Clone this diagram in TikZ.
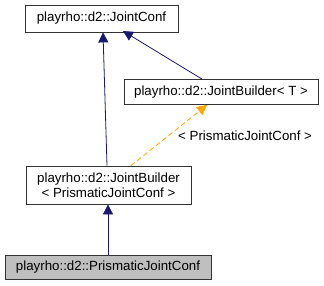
\documentclass[tikz,border=0pt]{standalone}
\usepackage{fontspec}
\setmainfont{Liberation Sans}
\usetikzlibrary{arrows.meta}
\definecolor{edgeblue}{RGB}{25,25,112}
\definecolor{edgeorange}{RGB}{255,165,0}
\definecolor{boxgray}{RGB}{191,191,191}
\tikzset{
  classbox/.style={draw=black!80, fill=white, line width=0.8pt, inner sep=0pt, align=center, font=\fontsize{13.3}{15}\selectfont},
  inherit/.style={draw=edgeblue, line width=0.8pt, -{Triangle[width=10pt,length=10pt]}},
  templ/.style={draw=edgeorange, line width=0.8pt, dashed, dash pattern=on 5pt off 3pt, -{Triangle[width=10pt,length=10pt]}},
  lbl/.style={font=\fontsize{13.3}{15}\selectfont, inner sep=0pt}
}
\begin{document}
\begin{tikzpicture}[x=1pt,y=-1pt]
\useasboundingbox (0,0) rectangle (324,285);
% class boxes
\node[classbox, minimum width=153pt, minimum height=27pt] (jc) at (101.5,18.5) {playrho::d2::JointConf};
\node[classbox, minimum width=194pt, minimum height=25pt] (jbt) at (221,92) {playrho::d2::JointBuilder\textless{} T \textgreater};
\node[classbox, minimum width=165pt, minimum height=38pt] (jbp) at (108.5,185) {playrho::d2::JointBuilder\\\textless{} PrismaticJointConf \textgreater};
\node[classbox, fill=boxgray, minimum width=206pt, minimum height=24pt] (pjc) at (108,267) {playrho::d2::PrismaticJointConf};
% inheritance edges
\draw[inherit] (jbp.north -| 107,0) -- (jc.south -| 103,0);
\draw[inherit] (jbt.north -| 202,0) -- (123,31);
\draw[inherit] (pjc.north -| 108,0) -- (jbp.south -| 108,0);
% template instantiation
\draw[templ] (jbp.north -| 131,0) -- (jbt.south -| 207,0);
\node[lbl, anchor=west] (tl) at (178,136) {\textless{} PrismaticJointConf \textgreater};
\end{tikzpicture}
\end{document}
